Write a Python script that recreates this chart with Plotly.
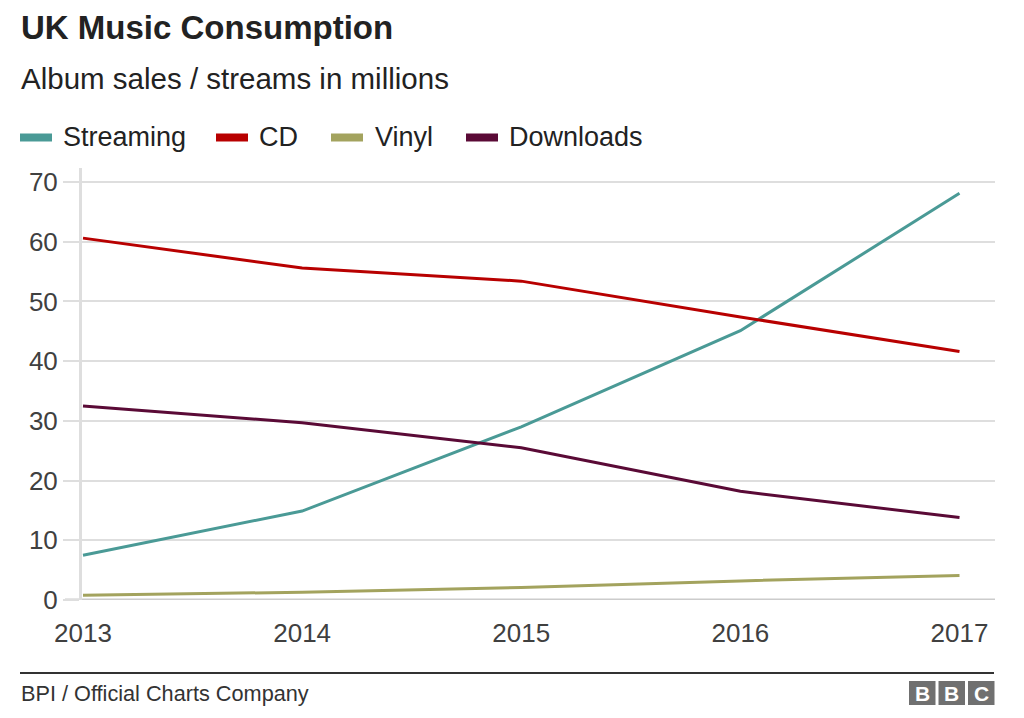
import plotly.graph_objects as go

years = [2013, 2014, 2015, 2016, 2017]
streaming = [7.5, 14.9, 29.0, 45.1, 68.1]
cd = [60.6, 55.6, 53.4, 47.4, 41.6]
vinyl = [0.8, 1.3, 2.1, 3.2, 4.1]
downloads = [32.5, 29.7, 25.5, 18.2, 13.8]
y_ticks = [0, 10, 20, 30, 40, 50, 60, 70]

series = [
    ("Streaming", streaming, "#4a9a96"),
    ("CD", cd, "#b80000"),
    ("Vinyl", vinyl, "#a3a35e"),
    ("Downloads", downloads, "#5a0a36"),
]

# the page body adds an 8px margin; lay out in reference pixel coords and shift
OFF = 8
W, H = 1024 - OFF, 718 - OFF
PL, PR, PT, PB = 82, 995, 168, 600          # plot box in reference pixels
L, R, T, B = PL - OFF, 1024 - PR, PT - OFF, 718 - PB
PW, PH = PR - PL, PB - PT
FONT = "Liberation Sans, Arial, Helvetica, sans-serif"


def px(x):
    return (x - PL) / PW


def py(y):
    return (PB - y) / PH


fig = go.Figure()
for name, vals, col in series:
    fig.add_trace(go.Scatter(x=years, y=vals, name=name, mode="lines",
                             line=dict(color=col, width=3), showlegend=False))

annotations = [
    dict(text="<b>UK Music Consumption</b>", x=px(19), y=py(28), xanchor="left", yanchor="middle",
         font=dict(size=33, color="#222222", family=FONT)),
    dict(text="Album sales / streams in millions", x=px(19), y=py(78), xanchor="left", yanchor="middle",
         font=dict(size=29.5, color="#222222", family=FONT)),
    dict(text="BPI / Official Charts Company", x=px(19), y=py(693), xanchor="left", yanchor="middle",
         font=dict(size=21.7, color="#333333", family=FONT)),
]
shapes = [
    dict(type="line", xref="paper", yref="paper", x0=px(20), x1=px(994), y0=py(673), y1=py(673),
         line=dict(color="#333333", width=2)),
]

# legend (swatch + label) laid out like the reference
legend_pos = [(20, 63), (216, 259), (331, 375), (466, 509)]
for (name, vals, col), (sx, tx) in zip(series, legend_pos):
    shapes.append(dict(type="line", xref="paper", yref="paper", x0=px(sx), x1=px(sx + 32),
                       y0=py(137.5), y1=py(137.5), line=dict(color=col, width=8)))
    annotations.append(dict(text=name, x=px(tx - 2), y=py(137), xanchor="left", yanchor="middle",
                            font=dict(size=27, color="#222222", family=FONT)))

# BBC blocks
for i, letter in enumerate(["B", "B", "C"]):
    x0 = 909 + i * 29.5
    shapes.append(dict(type="rect", xref="paper", yref="paper", x0=px(x0), x1=px(x0 + 26.5),
                       y0=py(681), y1=py(705), fillcolor="#707070", line=dict(width=0)))
    annotations.append(dict(text="<b>%s</b>" % letter, x=px(x0 + 13.25), y=py(693.5), xanchor="center",
                            yanchor="middle", font=dict(size=21, color="white", family=FONT)))

for a in annotations:
    a.update(xref="paper", yref="paper", showarrow=False)

px_per_year = (959.5 - 83) / 4
x0_val = 2013 - (83 - PL) / px_per_year
x1_val = 2017 + (PR - 959.5) / px_per_year
px_per_unit = (PB - 182) / 70
y1_val = (PB - PT) / px_per_unit

fig.update_layout(
    width=W, height=H,
    margin=dict(l=L, r=R, t=T, b=B, pad=0),
    paper_bgcolor="white", plot_bgcolor="white",
    font=dict(family=FONT, color="#404040"),
    showlegend=False,
    annotations=annotations,
    shapes=shapes,
    xaxis=dict(range=[x0_val, x1_val], tickvals=years, ticktext=[str(y) for y in years],
               showgrid=False, zeroline=False, showline=False,
               ticks="outside", ticklen=10, tickcolor="rgba(0,0,0,0)",
               tickfont=dict(size=26, color="#404040"), fixedrange=True),
    yaxis=dict(range=[0, y1_val], tickvals=y_ticks,
               showgrid=True, gridcolor="#dedede", gridwidth=2,
               ticks="outside", ticklen=16, tickcolor="#dedede", tickwidth=2,
               zeroline=False, showline=True, linecolor="#dedede", linewidth=3,
               tickfont=dict(size=26, color="#404040"), fixedrange=True),
)
# baseline drawn across the tick area too
fig.add_shape(type="line", xref="paper", yref="y", x0=px(65), x1=1, y0=0, y1=0,
              line=dict(color="#cccccc", width=3), layer="below")

fig.write_html("out.html")
